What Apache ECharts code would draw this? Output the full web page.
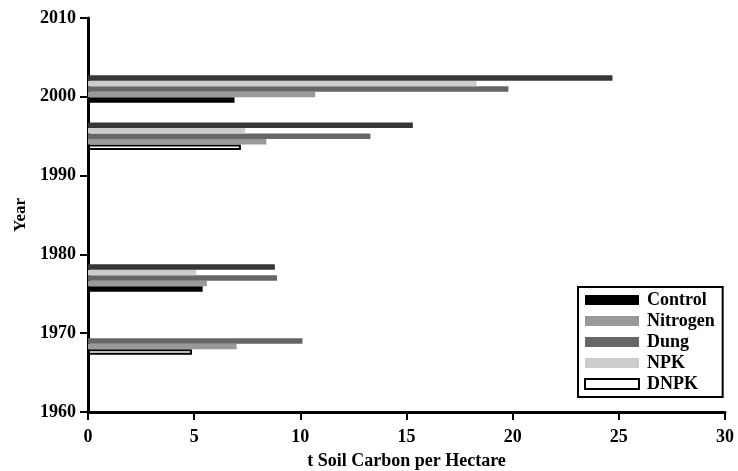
<!DOCTYPE html>
<html>
<head>
<meta charset="utf-8">
<script src="https://cdn.jsdelivr.net/npm/echarts@6/dist/echarts.min.js"></script>
<style>
  html, body { margin: 0; padding: 0; background: #fff; }
  #chart { width: 738px; height: 471px; }
</style>
</head>
<body>
<div id="chart"></div>
<script>
// sampling years (one group of bars per year)
var groupYears = [1969, 1977, 1995, 2001]

// t soil carbon per hectare, one value per group (null = no bar)
var controlData = [null, 5.4, null, 6.9]
var nitrogenData = [7.0, 5.6, 8.4, 10.7]
var dungData = [10.1, 8.9, 13.3, 19.8]
var npkData = [null, 5.1, 7.4, 18.3]
var dnpkData = [4.9, null, 7.2, null]
var topData = [null, 8.8, 15.3, 24.7]

var xTicks = [0, 5, 10, 15, 20, 25, 30]
var yTicks = [1960, 1970, 1980, 1990, 2000, 2010]

var font = 'Liberation Serif'
var barSize = 0.7 // bar thickness in years

// build [value, year] pairs, slot 0 at the bottom of a group
function makeData (values, slot) {
  var out = []
  for (var i = 0; i < values.length; i++) {
    if (values[i] === null) continue
    out.push([values[i], groupYears[i] - 2 * barSize + slot * barSize])
  }
  return out
}

function renderBar (params, api) {
  var start = api.coord([0, api.value(1)])
  var end = api.coord([api.value(0), api.value(1)])
  var h = api.size([0, barSize])[1]
  var style = api.style()
  var border = params.seriesName === 'DNPK'
  return {
    type: 'rect',
    shape: {
      x: start[0] + (border ? 1 : 0),
      y: start[1] - h / 2 + (border ? 1 : 0),
      width: end[0] - start[0] - (border ? 2 : 0),
      height: h - (border ? 2 : 0)
    },
    style: {
      fill: style.fill,
      stroke: border ? '#000' : null,
      lineWidth: border ? 2 : 0
    }
  }
}

function barSeries (name, values, slot, itemStyle) {
  return {
    name: name,
    type: 'custom',
    renderItem: renderBar,
    encode: { x: 0, y: 1 },
    itemStyle: itemStyle,
    data: makeData(values, slot)
  }
}

var chart = echarts.init(document.getElementById('chart'))
var option = {
  animation: false,
  backgroundColor: '#fff',
  grid: { left: 88, right: 13, top: 18, bottom: 59, outerBoundsMode: 'none', containLabel: false },
  legend: {
    orient: 'vertical',
    left: 578,
    top: 287,
    padding: [4, 8, 4, 6],
    itemGap: 3,
    itemWidth: 54,
    itemHeight: 10,
    borderColor: '#000',
    borderWidth: 2,
    backgroundColor: '#fff',
    icon: 'rect',
    textStyle: { fontFamily: font, fontWeight: 'bold', fontSize: 18, color: '#000', padding: [0, 0, 0, 3] },
    data: ['Control', 'Nitrogen', 'Dung', 'NPK', 'DNPK']
  },
  xAxis: {
    type: 'value',
    min: 0,
    max: 30,
    interval: 5,
    name: 't Soil Carbon per Hectare',
    nameLocation: 'middle',
    nameGap: 40,
    nameTextStyle: { fontFamily: font, fontWeight: 'bold', fontSize: 18, color: '#000' },
    axisLine: { show: true, lineStyle: { color: '#000', width: 3 } },
    axisTick: { show: true, length: 8, lineStyle: { color: '#000', width: 2 } },
    axisLabel: {
      margin: 16,
      fontFamily: font, fontWeight: 'bold', fontSize: 18, color: '#000',
      formatter: function (v) { return xTicks.indexOf(v) >= 0 ? String(v) : '' }
    },
    splitLine: { show: false }
  },
  yAxis: {
    type: 'value',
    min: 1960,
    max: 2010,
    interval: 10,
    name: 'Year',
    nameLocation: 'middle',
    nameGap: 59,
    nameTextStyle: { fontFamily: font, fontWeight: 'bold', fontSize: 17, color: '#000' },
    axisLine: { show: true, lineStyle: { color: '#000', width: 3 } },
    axisTick: { show: true, length: 8, lineStyle: { color: '#000', width: 2 } },
    axisLabel: {
      margin: 12,
      fontFamily: font, fontWeight: 'bold', fontSize: 18, color: '#000',
      formatter: function (v) { return yTicks.indexOf(v) >= 0 ? String(v) : '' }
    },
    splitLine: { show: false }
  },
  series: [
    barSeries('Control', controlData, 0, { color: '#000' }),
    barSeries('DNPK', dnpkData, 0, { color: '#fff', borderColor: '#000', borderWidth: 2 }),
    barSeries('Nitrogen', nitrogenData, 1, { color: '#999' }),
    barSeries('Dung', dungData, 2, { color: '#666' }),
    barSeries('NPK', npkData, 3, { color: '#ccc' }),
    barSeries('', topData, 4, { color: '#363636' })
  ]
}
chart.setOption(option)
</script>
</body>
</html>
